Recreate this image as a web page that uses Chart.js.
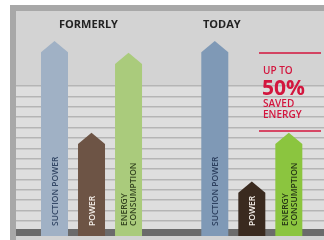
<!DOCTYPE html>
<html>
<head>
<meta charset="utf-8">
<script src="https://cdn.jsdelivr.net/npm/chart.js@4.4.1/dist/chart.umd.min.js"></script>
<style>
  html, body { margin: 0; padding: 0; background: #ffffff; }
  #wrap { width: 324px; height: 240px; }
</style>
</head>
<body>
<div id="wrap"><canvas id="chart" width="324" height="240"></canvas></div>
<script>
// bar data: two groups, three arrows each
const barLabels = [
    ['SUCTION POWER'], ['POWER'], ['ENERGY', 'CONSUMPTION'],
    ['SUCTION POWER'], ['POWER'], ['ENERGY', 'CONSUMPTION']
];
const barPositions = [1, 2, 3, 5.33, 6.33, 7.33];
const barValues = [100, 53, 94, 100, 28, 53];
const barColors = ['#a0b1c5', '#6d5445', '#aacb7c', '#7f99b6', '#3a2a1f', '#8bc53f'];
const labelColors = ['#344866', '#f4eee8', '#33431f', '#2c3f5e', '#f4eee8', '#263616'];
const groupTitles = ['FORMERLY', 'TODAY'];
const gridRows = [0, 1, 2, 3, 4, 5, 6, 7, 8, 9, 10, 11, 12, 13, 14];
const savingText = ['UP TO', '50%', 'SAVED', 'ENERGY'];

const FONT = '"Open Sans", "DejaVu Sans", sans-serif';

// panel background, stripe band, frame
const panelPlugin = {
    id: 'panel',
    beforeDraw(chart) {
        const { ctx, chartArea, scales } = chart;
        ctx.save();
        ctx.fillStyle = '#d3d3d3';
        ctx.fillRect(10, 5, 314, 235);
        const top = scales.y2.getPixelForValue(gridRows[gridRows.length - 1]);
        ctx.fillStyle = '#dedede';
        ctx.fillRect(chartArea.left, top, chartArea.right - chartArea.left, chartArea.bottom - top);
        ctx.fillStyle = '#a8a8a8';
        ctx.fillRect(10, 5, 6, 235);
        ctx.fillRect(10, 5, 314, 6);
        ctx.restore();
    },
    beforeDatasetsDraw(chart) {
        // dark floor strip
        const { ctx, chartArea, scales } = chart;
        const base = scales.y.getPixelForValue(0);
        ctx.save();
        ctx.fillStyle = '#6b6b6b';
        ctx.fillRect(chartArea.left, base - 7, chartArea.right - chartArea.left, 7);
        ctx.restore();
    }
};

// draw bars as upward arrows with rotated labels inside
const arrowPlugin = {
    id: 'arrows',
    beforeDatasetDraw() {
        return false;
    },
    afterDatasetsDraw(chart) {
        const { ctx, scales } = chart;
        const meta = chart.getDatasetMeta(0);
        ctx.save();
        meta.data.forEach((bar, i) => {
            const half = bar.width / 2;
            const head = bar.width * 0.42;
            const base = bar.base;
            ctx.fillStyle = barColors[i];
            ctx.beginPath();
            ctx.moveTo(bar.x - half, base);
            ctx.lineTo(bar.x - half, bar.y + head);
            ctx.lineTo(bar.x, bar.y);
            ctx.lineTo(bar.x + half, bar.y + head);
            ctx.lineTo(bar.x + half, base);
            ctx.closePath();
            ctx.fill();

            // label
            const lines = barLabels[i];
            ctx.save();
            ctx.translate(bar.x, base - 10);
            ctx.rotate(-Math.PI / 2);
            ctx.fillStyle = labelColors[i];
            ctx.font = '600 8.5px ' + FONT;
            ctx.textAlign = 'left';
            ctx.textBaseline = 'middle';
            const lh = 9;
            lines.forEach((ln, j) => {
                const off = (j - (lines.length - 1) / 2) * lh + 1;
                ctx.fillText(ln, 0, off);
            });
            ctx.restore();
        });

        // group titles
        ctx.fillStyle = '#222222';
        ctx.font = 'bold 11px ' + FONT;
        ctx.textAlign = 'center';
        ctx.textBaseline = 'middle';
        ctx.fillText(groupTitles[0], scales.x.getPixelForValue(barPositions[1]) - 3, 25);
        ctx.fillText(groupTitles[1], scales.x.getPixelForValue(barPositions[3]) + 7, 25);

        // savings annotation
        const red = '#d3163e';
        const lx = 259, rx = 321;
        ctx.strokeStyle = red;
        ctx.lineWidth = 1.5;
        ctx.beginPath();
        ctx.moveTo(lx, 53); ctx.lineTo(rx, 53);
        ctx.moveTo(lx, 131); ctx.lineTo(rx, 131);
        ctx.stroke();
        ctx.fillStyle = red;
        ctx.textAlign = 'left';
        ctx.textBaseline = 'alphabetic';
        ctx.font = '600 10px ' + FONT;
        ctx.fillText(savingText[0], 263, 74);
        ctx.font = 'bold 21px ' + FONT;
        ctx.fillText(savingText[1], 262, 95);
        ctx.font = '600 10px ' + FONT;
        ctx.fillText(savingText[2], 263, 107);
        ctx.fillText(savingText[3], 263, 118);
        ctx.restore();
    }
};

new Chart(document.getElementById('chart'), {
    type: 'bar',
    data: {
        datasets: [{
            data: barPositions.map((x, i) => ({ x: x, y: barValues[i] })),
            backgroundColor: barColors,
            borderWidth: 0,
            barThickness: 27
        }]
    },
    options: {
        responsive: false,
        animation: false,
        layout: { padding: { top: 41, bottom: 4, left: 16, right: 0 } },
        plugins: { legend: { display: false }, tooltip: { enabled: false } },
        scales: {
            x: { type: 'linear', offset: false, min: -0.04, max: 8.28, display: false },
            y: { min: 0, max: 100, display: false },
            y2: {
                position: 'right',
                min: -0.45,
                max: 18.34,
                afterBuildTicks(scale) {
                    scale.ticks = gridRows.map(v => ({ value: v }));
                },
                ticks: { display: false },
                border: { display: false },
                grid: { color: '#b5b5b5', lineWidth: 1.5, drawTicks: false }
            }
        }
    },
    plugins: [panelPlugin, arrowPlugin]
});
</script>
</body>
</html>
